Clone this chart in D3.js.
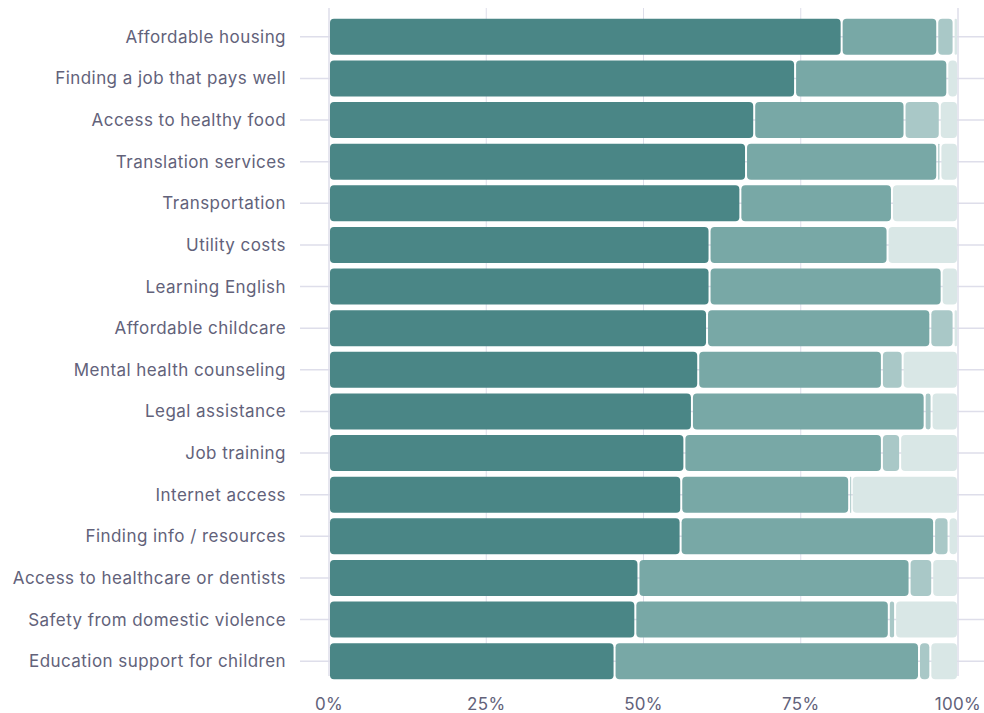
<!DOCTYPE html>
<html>
<head>
<meta charset="utf-8">
<script src="https://cdn.jsdelivr.net/npm/d3@7"></script>
<style>
  body { margin: 0; background: #fff; }
  svg text { font-family: Inter, "Noto Sans", sans-serif; fill: #62627a; }
</style>
</head>
<body>
<svg id="chart" width="984" height="713"></svg>
<script>
const categories = [
  'Affordable housing',
  'Finding a job that pays well',
  'Access to healthy food',
  'Translation services',
  'Transportation',
  'Utility costs',
  'Learning English',
  'Affordable childcare',
  'Mental health counseling',
  'Legal assistance',
  'Job training',
  'Internet access',
  'Finding info / resources',
  'Access to healthcare or dentists',
  'Safety from domestic violence',
  'Education support for children'
]

// share of respondents (%) in each of the four response groups, darkest first
const series1 = [81.5, 74.1, 67.6, 66.3, 65.4, 60.5, 60.5, 60.1, 58.7, 57.7, 56.5, 56.0, 55.9, 49.2, 48.7, 45.4]
const series2 = [15.2, 24.2, 23.9, 30.4, 24.1, 28.3, 36.9, 35.5, 29.2, 37.0, 31.4, 26.7, 40.3, 43.1, 40.3, 48.4]
const series3 = [2.6, 0, 5.6, 0.5, 0, 0, 0, 3.7, 3.3, 1.1, 2.9, 0.4, 2.3, 3.6, 1.0, 1.8]
const series4 = [0.7, 1.7, 2.9, 2.8, 10.5, 11.2, 2.6, 0.7, 8.8, 4.2, 9.2, 16.9, 1.5, 4.1, 10.0, 4.4]

const tickValues = [0, 25, 50, 75, 100]
const colors = ['#4a8686', '#78a8a6', '#a9c8c7', '#d9e7e6']

const svg = d3.select('#chart')
const margin = { left: 329, right: 26, top: 16, bottom: 31 }
const width = 984 - margin.left - margin.right
const height = 713 - margin.top - margin.bottom

const g = svg.append('g').attr('transform', `translate(${margin.left},${margin.top})`)

const x = d3.scaleLinear().domain([0, 100]).range([0, width])
const y = d3.scaleBand()
  .domain(categories)
  .range([0, height])
  .paddingInner(0.135)
  .paddingOuter(0.0675)

const rows = categories.map((c, i) => ({ name: c, v: [series1[i], series2[i], series3[i], series4[i]] }))
const gridColor = '#dedeea'

// horizontal lines through each row (show as ticks on both sides)
g.append('g')
  .selectAll('line')
  .data(categories)
  .join('line')
  .attr('x1', -29)
  .attr('x2', width + 40)
  .attr('y1', d => y(d) + y.bandwidth() / 2)
  .attr('y2', d => y(d) + y.bandwidth() / 2)
  .attr('stroke', gridColor)
  .attr('stroke-width', 1.5)

// vertical grid
g.append('g')
  .selectAll('line')
  .data(tickValues)
  .join('line')
  .attr('x1', d => x(d))
  .attr('x2', d => x(d))
  .attr('y1', -8)
  .attr('y2', height - 6)
  .attr('stroke', gridColor)
  .attr('stroke-width', d => (d === 0 || d === 100) ? 1.5 : 1)

// bars
const rowG = g.append('g')
  .selectAll('g.row')
  .data(rows)
  .join('g')
  .attr('class', 'row')
  .attr('transform', d => `translate(0,${y(d.name)})`)

rowG.each(function (d) {
  let start = 0
  const segs = d.v.map((v, k) => {
    const s = { x0: start, x1: start + v, k }
    start += v
    return s
  }).filter(s => s.x1 - s.x0 > 0)
  d3.select(this)
    .selectAll('rect')
    .data(segs)
    .join('rect')
    .attr('x', s => x(s.x0) + 1)
    .attr('y', 0)
    .attr('width', s => Math.max(1, x(s.x1) - x(s.x0) - 2))
    .attr('height', y.bandwidth())
    .attr('rx', s => Math.min(4, (x(s.x1) - x(s.x0) - 2) / 2))
    .attr('fill', s => colors[s.k])
})

// y labels
g.append('g')
  .selectAll('text')
  .data(categories)
  .join('text')
  .attr('x', -43)
  .attr('y', d => y(d) + y.bandwidth() / 2)
  .attr('dy', '0.35em')
  .attr('text-anchor', 'end')
  .style('font-size', '17px')
  .style('letter-spacing', '0.45px')
  .text(d => d)

// x labels
g.append('g')
  .selectAll('text')
  .data(tickValues)
  .join('text')
  .attr('x', d => x(d))
  .attr('y', height + 28)
  .attr('text-anchor', 'middle')
  .style('font-size', '17px')
  .style('letter-spacing', '0.3px')
  .text(d => d + '%')
</script>
</body>
</html>
